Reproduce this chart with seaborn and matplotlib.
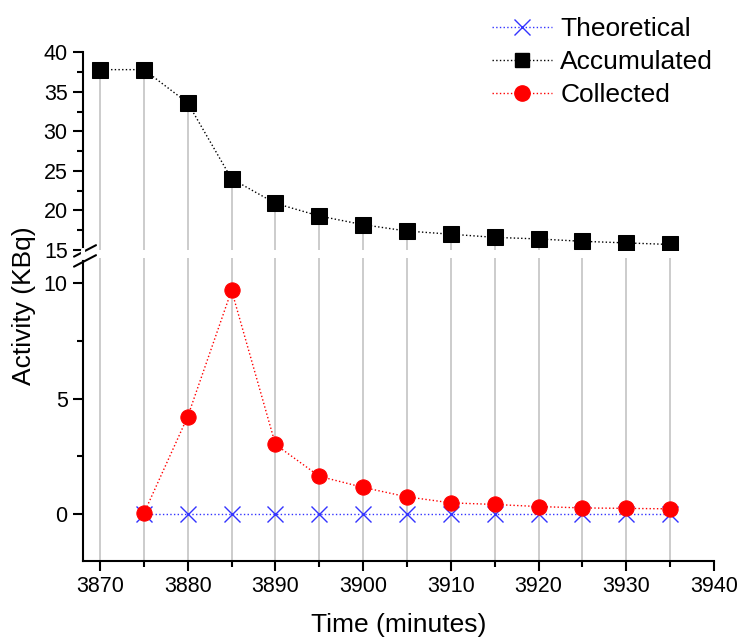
import numpy as np
import pandas as pd
import matplotlib
matplotlib.use("Agg")
import matplotlib.pyplot as plt
from matplotlib.lines import Line2D
from matplotlib.ticker import MultipleLocator
import seaborn as sns

# Sampling times (minutes) and measured activity (KBq)
time_acc = [3870, 3875, 3880, 3885, 3890, 3895, 3900, 3905, 3910, 3915, 3920, 3925, 3930, 3935]
accumulated = [37.8, 37.8, 33.6, 24.0, 20.9, 19.3, 18.2, 17.4, 17.0, 16.6, 16.4, 16.1, 15.9, 15.7]

time_col = [3875, 3880, 3885, 3890, 3895, 3900, 3905, 3910, 3915, 3920, 3925, 3930, 3935]
collected = [0.03, 4.23, 9.70, 3.02, 1.64, 1.16, 0.75, 0.49, 0.42, 0.33, 0.27, 0.25, 0.23]
theoretical = [0, 0, 0, 0, 0, 0, 0, 0, 0, 0, 0, 0, 0]

sns.set_style("ticks", {"axes.edgecolor": "black", "text.color": "black",
                        "xtick.color": "black", "ytick.color": "black",
                        "axes.labelcolor": "black"})
plt.rcParams["font.family"] = ["Liberation Sans", "DejaVu Sans"]

fig = plt.figure(figsize=(7.41, 6.37), dpi=100)
left, right = 0.112, 0.9636
ax_top = fig.add_axes([left, 0.6075, right - left, 0.918 - 0.6075])
ax_bot = fig.add_axes([left, 0.1193, right - left, 0.595 - 0.1193], sharex=ax_top)

grid_c = "#c4c4c4"
blue = "#3333ff"
x_min, x_max = 3868.06, 3940

# Upper panel: accumulated activity with drop lines
ax_top.vlines(time_acc, 15, accumulated, color=grid_c, lw=1.2, zorder=1)
sns.lineplot(x=time_acc, y=accumulated, ax=ax_top, color="black", marker="s",
             markersize=11, linestyle=":", lw=1, markeredgecolor="black", zorder=3)
ax_top.set_ylim(15, 40)
ax_top.set_xlim(x_min, x_max)
ax_top.yaxis.set_major_locator(MultipleLocator(5))
ax_top.yaxis.set_minor_locator(MultipleLocator(2.5))
for s in ["top", "right", "bottom"]:
    ax_top.spines[s].set_visible(False)
ax_top.tick_params(axis="x", which="both", bottom=False, labelbottom=False)

# Lower panel: collected and theoretical activity
for t in time_acc:
    ax_bot.axvline(t, color=grid_c, lw=1.2, zorder=1)
sns.lineplot(x=time_col, y=theoretical, ax=ax_bot, color=blue, marker="x",
             markersize=11, linestyle=":", lw=1, markeredgecolor=blue,
             markeredgewidth=1, zorder=2)
sns.lineplot(x=time_col, y=collected, ax=ax_bot, color="red", marker="o",
             markersize=11, linestyle=":", lw=1, markeredgecolor="red", zorder=3)
ax_bot.set_ylim(-2.03, 11.1)
ax_bot.set_xlim(x_min, x_max)
ax_bot.yaxis.set_major_locator(MultipleLocator(5))
ax_bot.yaxis.set_minor_locator(MultipleLocator(2.5))
ax_bot.xaxis.set_major_locator(MultipleLocator(10))
ax_bot.xaxis.set_minor_locator(MultipleLocator(5))
for s in ["top", "right"]:
    ax_bot.spines[s].set_visible(False)

for ax in (ax_top, ax_bot):
    for s in ax.spines.values():
        s.set_linewidth(1.5)
    ax.tick_params(which="major", direction="out", length=7, width=1.5,
                   labelsize=15.5, pad=4)
    ax.tick_params(which="minor", direction="out", length=4, width=1.5)
    ax.set_xlabel("")
    ax.set_ylabel("")

ax_bot.set_xticks(np.arange(3870, 3941, 10))

# Axis break marks
for yb in (249, 259):
    yf = 1 - yb / 637
    fig.add_artist(Line2D([74 / 741, 96 / 741], [yf - 0.012, yf + 0.006],
                          color="black", lw=1.5, transform=fig.transFigure))
fig.add_artist(Line2D([83 / 741, 83 / 741], [1 - 258 / 637, 1 - 250 / 637],
                      color="white", lw=3, transform=fig.transFigure))

fig.text(399 / 741, 1 - 625 / 637, "Time (minutes)", ha="center", va="center", fontsize=19)
fig.text(24 / 741, 1 - 306 / 637, "Activity (KBq)", ha="center", va="center",
         rotation=90, fontsize=19)

handles = [
    Line2D([], [], color=blue, marker="x", markersize=11, linestyle=":", lw=1),
    Line2D([], [], color="black", marker="s", markersize=10, linestyle=":", lw=1),
    Line2D([], [], color="red", marker="o", markersize=11, linestyle=":", lw=1),
]
fig.legend(handles, ["Theoretical", "Accumulated", "Collected"],
           loc="upper left", bbox_to_anchor=(468 / 741, 1.01), frameon=False,
           fontsize=19, handlelength=2.3, handletextpad=0.3, labelspacing=0.33)

fig.savefig("out.png", dpi=100)
